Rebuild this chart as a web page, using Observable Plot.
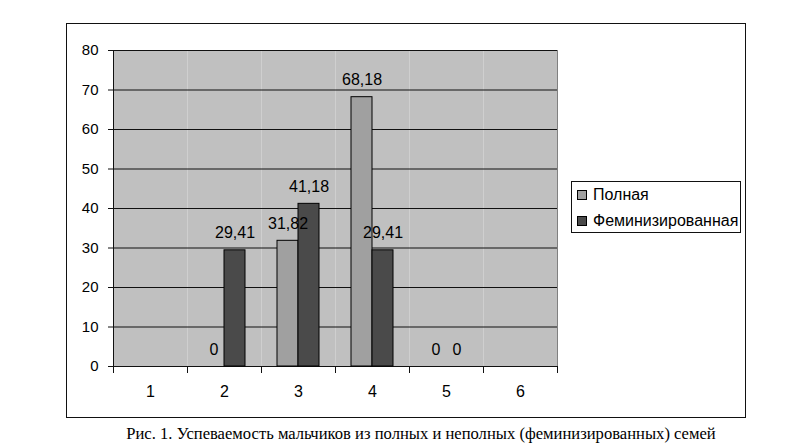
<!DOCTYPE html>
<html>
<head>
<meta charset="utf-8">
<script src="https://cdn.jsdelivr.net/npm/d3@7"></script>
<script src="https://cdn.jsdelivr.net/npm/@observablehq/plot@0.6"></script>
<style>
  html, body { margin: 0; padding: 0; background: #fff; }
  #wrap { position: relative; width: 791px; height: 446px; overflow: hidden; font-family: "Liberation Sans", Arial, sans-serif; }
  #outer { position: absolute; left: 66px; top: 23px; width: 680px; height: 395px; border: 1.5px solid #111; box-sizing: border-box; }
  #chart { position: absolute; left: 0; top: 0; }
  #legend { position: absolute; left: 571px; top: 181px; width: 170px; height: 52px; border: 1px solid #111; box-sizing: border-box; background: #fff; font-size: 16px; color: #000; }
  .item { position: absolute; left: 5px; height: 18px; line-height: 18px; white-space: nowrap; }
  .sw { display: inline-block; width: 8px; height: 8px; border: 1px solid #000; vertical-align: middle; margin-right: 6px; position: relative; top: -1px; }
  #caption { position: absolute; left: 0; width: 842px; top: 424px; text-align: center; font-family: "Liberation Serif", "Times New Roman", serif; font-size: 16.6px; color: #000; white-space: nowrap; }
</style>
</head>
<body>
<div id="wrap">
  <div id="outer"></div>
  <div id="chart"></div>
  <div id="legend"></div>
  <div id="caption"></div>
</div>
<script>
const categories = ["1", "2", "3", "4", "5", "6"];
const seriesNames = ["Полная", "Феминизированная"];
const polnaya = [null, 0, 31.82, 68.18, 0, null];
const feminized = [null, 29.41, 41.18, 29.41, 0, null];
const yTicks = [0, 10, 20, 30, 40, 50, 60, 70, 80];
const seriesColors = ["#a0a0a0", "#4a4a4a"];
const captionText = "Рис. 1. Успеваемость мальчиков из полных и неполных (феминизированных) семей";

const rows = [];
categories.forEach((c, i) => {
  if (polnaya[i] != null) rows.push({cat: c, series: seriesNames[0], value: polnaya[i]});
  if (feminized[i] != null) rows.push({cat: c, series: seriesNames[1], value: feminized[i]});
});
const baseline = categories.map(c => ({cat: c, v: 0}));
const fmt = v => String(v).replace(".", ",");

const plotH = 420, mTop = 50, mBottom = 54;
const innerH = plotH - mTop - mBottom;

const chart = Plot.plot({
  width: 791,
  height: plotH,
  marginLeft: 112,
  marginRight: 234,
  marginTop: mTop,
  marginBottom: mBottom,
  style: {fontFamily: "'Liberation Sans', Arial, sans-serif", background: "transparent", color: "#000"},
  fx: {domain: categories, padding: 0, label: null},
  x: {domain: seriesNames, paddingInner: 0, paddingOuter: 0.76, axis: null},
  y: {domain: [0, 80], label: null},
  color: {domain: seriesNames, range: seriesColors},
  marks: [
    Plot.frame({fill: "#c0c0c0"}),
    Plot.gridY(yTicks, {stroke: "#111", strokeOpacity: 1, strokeWidth: 1}),
    Plot.frame({anchor: "right", stroke: "#808080", facetAnchor: "right"}),
    Plot.frame({anchor: "left", stroke: "#111", facetAnchor: "left"}),
    Plot.frame({anchor: "left", stroke: "#111", insetTop: innerH, insetBottom: -6}),
    Plot.frame({anchor: "right", stroke: "#111", insetTop: innerH, insetBottom: -6}),
    Plot.ruleY(baseline, {fx: "cat", y: "v", stroke: "#111"}),
    Plot.barY(rows, {fx: "cat", x: "series", y: "value", fill: "series", stroke: "#000", strokeWidth: 1}),
    Plot.text(rows, {fx: "cat", x: "series", y: "value", text: d => fmt(d.value), dy: -17, fontSize: 16, fill: "#000"}),
    Plot.axisY({ticks: yTicks, tickSize: 5, tickPadding: 10, fontSize: 15, label: null, stroke: "#111"}),
    Plot.axisFx({anchor: "bottom", tickSize: 0, tickPadding: 19, fontSize: 16, label: null})
  ]
});
document.getElementById("chart").appendChild(chart);

const legend = document.getElementById("legend");
seriesNames.forEach((name, i) => {
  const it = document.createElement("div");
  it.className = "item";
  it.style.top = (4 + i * 26) + "px";
  const sw = document.createElement("span");
  sw.className = "sw";
  sw.style.background = seriesColors[i];
  it.appendChild(sw);
  it.appendChild(document.createTextNode(name));
  legend.appendChild(it);
});
document.getElementById("caption").textContent = captionText;
</script>
</body>
</html>
